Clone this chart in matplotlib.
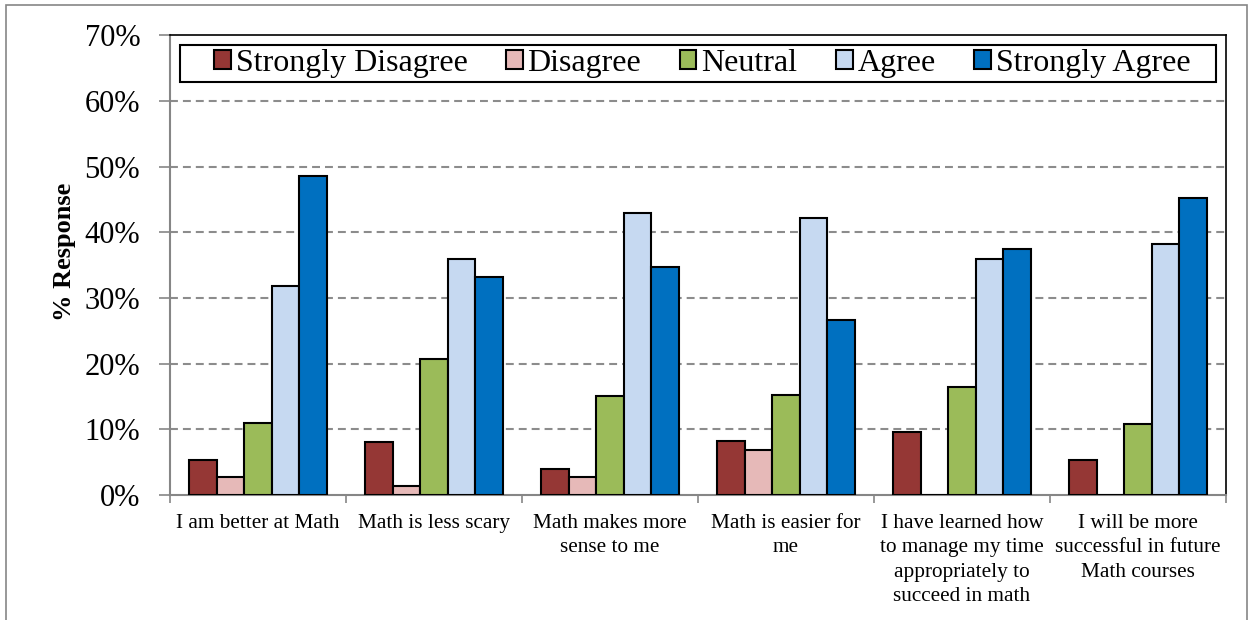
import matplotlib.pyplot as plt
import numpy as np
from matplotlib.patches import Rectangle

plt.rcParams['font.family'] = ['Liberation Serif', 'DejaVu Serif']

statements = ["I am better at Math", "Math is less scary", "Math makes more\nsense to me",
              "Math is easier for\nme",
              "I have learned how\nto manage my time\nappropriately to\nsucceed in math",
              "I will be more\nsuccessful in future\nMath courses"]
levels = ["Strongly Disagree", "Disagree", "Neutral", "Agree", "Strongly Agree"]
colors = ["#953735", "#E6B9B8", "#9BBB59", "#C6D9F1", "#0070C0"]

strongly_disagree = [5.4, 8.1, 4.0, 8.3, 9.6, 5.3]
disagree = [2.7, 1.3, 2.7, 6.9, 0.0, 0.0]
neutral = [10.9, 20.7, 15.1, 15.3, 16.5, 10.8]
agree = [31.8, 36.0, 43.0, 42.2, 36.0, 38.3]
strongly_agree = [48.6, 33.2, 34.7, 26.6, 37.4, 45.2]

series = [strongly_disagree, disagree, neutral, agree, strongly_agree]

fig = plt.figure(figsize=(12.53, 6.2), dpi=100)
ax = fig.add_axes([170 / 1253, 1 - 495 / 620, 1056 / 1253, (495 - 35.4) / 620])

x = np.arange(len(statements)) + 0.5
w = 0.156
for i, (vals, lab, col) in enumerate(zip(series, levels, colors)):
    ax.bar(x + (i - 2) * w, vals, w, color=col, edgecolor='black', linewidth=1.5,
           label=lab, zorder=3)

ax.set_xlim(0, len(statements))
ax.set_ylim(0, 70)
ax.set_yticks(range(0, 71, 10))
ax.set_yticklabels([f"{v}%" for v in range(0, 71, 10)], fontsize=22)
ax.tick_params(axis='y', length=8, width=1.2, color='#868686', pad=13.5)

# group boundaries carry the tick marks, labels sit at the group centres
ax.set_xticks(range(len(statements) + 1))
ax.set_xticklabels([])
ax.tick_params(axis='x', which='major', length=6, width=1.2, color='#868686')
ax.set_xticks(x, minor=True)
ax.set_xticklabels(statements, minor=True, fontsize=15.3, linespacing=1.36, va='top')
ax.tick_params(axis='x', which='minor', length=0, pad=14)

for v in range(10, 70, 10):
    ax.axhline(v, color='#8c8c8c', linewidth=1.5, dashes=(3.8, 2.4), zorder=1)

for s in ['left', 'bottom']:
    ax.spines[s].set_color('#868686')
    ax.spines[s].set_linewidth(1.5)
for s in ['top', 'right']:
    ax.spines[s].set_color('black')
    ax.spines[s].set_linewidth(1.2)

ax.set_ylabel("% Response", fontsize=19, fontweight='bold')
ax.yaxis.set_label_coords(-0.089, 0.53)

# legend box drawn separately so its width spans the plot
ax.add_patch(Rectangle((0.0095, 0.8986), 0.981, 0.0804, transform=ax.transAxes,
                       facecolor='white', edgecolor='black', linewidth=1.5, zorder=4))
leg = ax.legend(loc='center', bbox_to_anchor=(0.5038, 0.939), ncol=5, fontsize=23,
                frameon=False, borderaxespad=0, borderpad=0,
                handlelength=0.53, handleheight=0.53, handletextpad=0.15,
                columnspacing=1.2)
leg.set_zorder(5)
for h in leg.legend_handles:
    h.set_linewidth(1.5)

fig.patches.append(Rectangle((6 / 1253, -0.05), 1241 / 1253, 1.05 - 5 / 620,
                             transform=fig.transFigure, fill=False,
                             edgecolor='#868686', linewidth=1.2))

fig.savefig("out.png", dpi=100)
